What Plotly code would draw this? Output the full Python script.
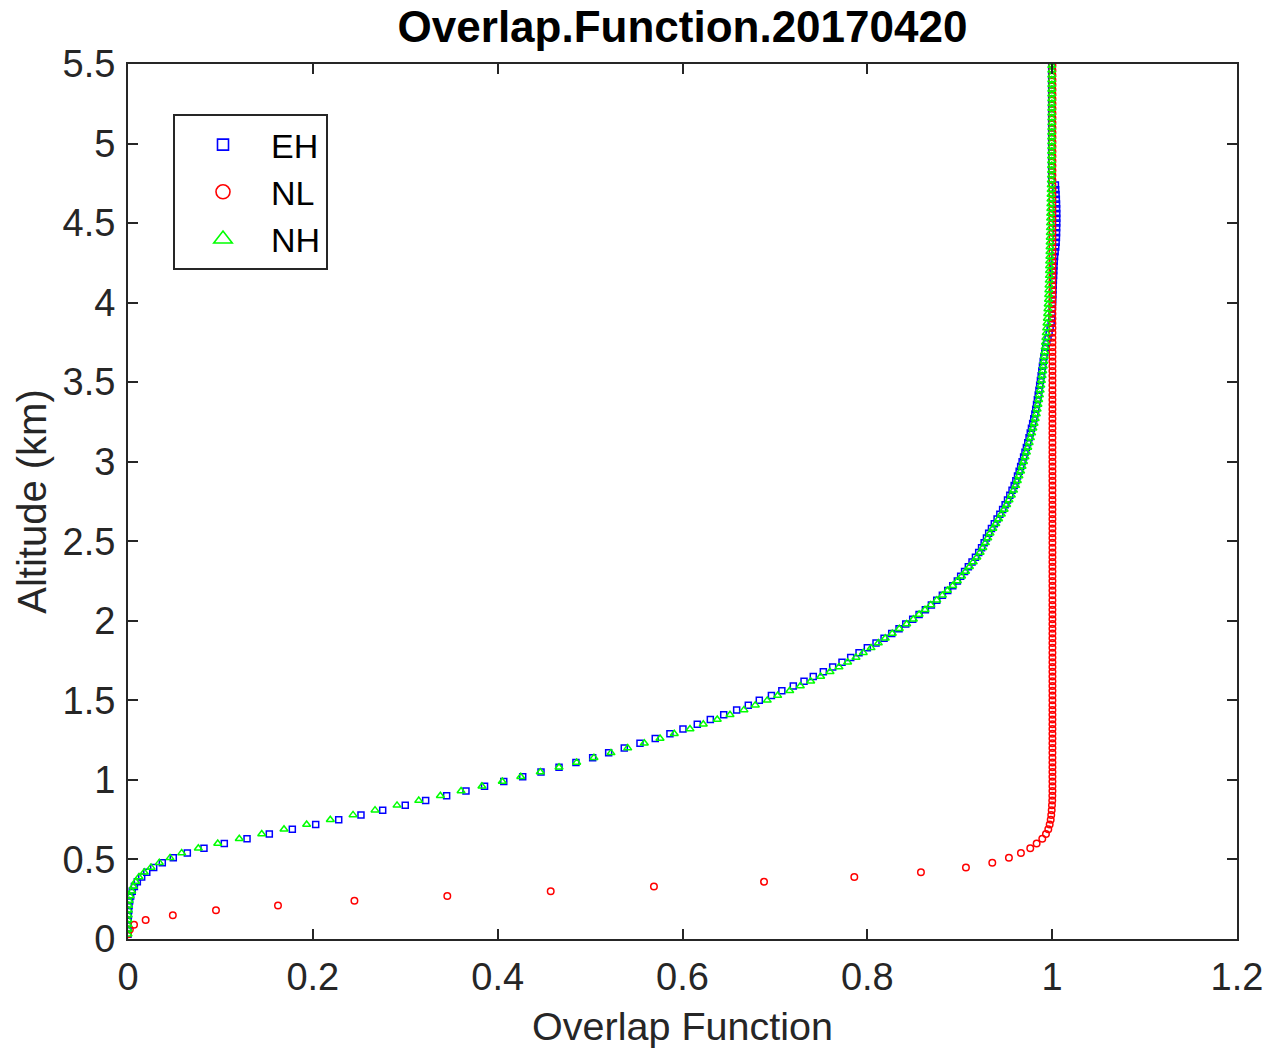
import plotly.graph_objects as go

# Altitude grid (km)
altitude_km = [
    0.03, 0.06, 0.09, 0.12, 0.15, 0.18, 0.21, 0.24, 0.27, 0.30,
    0.33, 0.36, 0.39, 0.42, 0.45, 0.48, 0.51, 0.54, 0.57, 0.60,
    0.63, 0.66, 0.69, 0.72, 0.75, 0.78, 0.81, 0.84, 0.87, 0.90,
    0.93, 0.96, 0.99, 1.02, 1.05, 1.08, 1.11, 1.14, 1.17, 1.20,
    1.23, 1.26, 1.29, 1.32, 1.35, 1.38, 1.41, 1.44, 1.47, 1.50,
    1.53, 1.56, 1.59, 1.62, 1.65, 1.68, 1.71, 1.74, 1.77, 1.80,
    1.83, 1.86, 1.89, 1.92, 1.95, 1.98, 2.01, 2.04, 2.07, 2.10,
    2.13, 2.16, 2.19, 2.22, 2.25, 2.28, 2.31, 2.34, 2.37, 2.40,
    2.43, 2.46, 2.49, 2.52, 2.55, 2.58, 2.61, 2.64, 2.67, 2.70,
    2.73, 2.76, 2.79, 2.82, 2.85, 2.88, 2.91, 2.94, 2.97, 3.00,
    3.03, 3.06, 3.09, 3.12, 3.15, 3.18, 3.21, 3.24, 3.27, 3.30,
    3.33, 3.36, 3.39, 3.42, 3.45, 3.48, 3.51, 3.54, 3.57, 3.60,
    3.63, 3.66, 3.69, 3.72, 3.75, 3.78, 3.81, 3.84, 3.87, 3.90,
    3.93, 3.96, 3.99, 4.02, 4.05, 4.08, 4.11, 4.14, 4.17, 4.20,
    4.23, 4.26, 4.29, 4.32, 4.35, 4.38, 4.41, 4.44, 4.47, 4.50,
    4.53, 4.56, 4.59, 4.62, 4.65, 4.68, 4.71, 4.74, 4.77, 4.80,
    4.83, 4.86, 4.89, 4.92, 4.95, 4.98, 5.01, 5.04, 5.07, 5.10,
    5.13, 5.16, 5.19, 5.22, 5.25, 5.28, 5.31, 5.34, 5.37, 5.40,
    5.43, 5.46, 5.49,
]

# EH overlap function
eh_overlap = [
    0.0, 0.0, 0.0, 0.0002, 0.0004, 0.0007, 0.0011, 0.0018, 0.0029, 0.0046,
    0.0069, 0.0101, 0.0148, 0.0203, 0.0278, 0.0371, 0.0490, 0.0642, 0.0822, 0.1042,
    0.1288, 0.1529, 0.1778, 0.2031, 0.2280, 0.2521, 0.2756, 0.3000, 0.3221, 0.3448,
    0.3657, 0.3858, 0.4066, 0.4271, 0.4469, 0.4664, 0.4847, 0.5028, 0.5201, 0.5370,
    0.5540, 0.5705, 0.5864, 0.6005, 0.6160, 0.6301, 0.6446, 0.6586, 0.6712, 0.6831,
    0.6962, 0.7075, 0.7199, 0.7315, 0.7415, 0.7524, 0.7625, 0.7726, 0.7820, 0.7910,
    0.8000, 0.8094, 0.8181, 0.8264, 0.8343, 0.8416, 0.8491, 0.8560, 0.8628, 0.8693,
    0.8751, 0.8812, 0.8870, 0.8924, 0.8974, 0.9010, 0.9052, 0.9093, 0.9133, 0.9170,
    0.9205, 0.9236, 0.9264, 0.9289, 0.9313, 0.9343, 0.9374, 0.9404, 0.9434, 0.9464,
    0.9491, 0.9517, 0.9542, 0.9566, 0.9589, 0.9607, 0.9625, 0.9643, 0.9659, 0.9675,
    0.9691, 0.9706, 0.9721, 0.9736, 0.9750, 0.9763, 0.9776, 0.9789, 0.9801, 0.9813,
    0.9822, 0.9831, 0.9840, 0.9849, 0.9857, 0.9865, 0.9873, 0.9881, 0.9888, 0.9895,
    0.9903, 0.9911, 0.9920, 0.9930, 0.9942, 0.9955, 0.9967, 0.9978, 0.9989, 0.9996,
    0.9999, 1.0001, 1.0003, 1.0005, 1.0007, 1.0009, 1.0011, 1.0013, 1.0015, 1.0017,
    1.0019, 1.0022, 1.0026, 1.0032, 1.0039, 1.0043, 1.0046, 1.0047, 1.0048, 1.0049,
    1.0049, 1.0049, 1.0048, 1.0047, 1.0045, 1.0042, 1.0038, 1.0035, 0.9995, 0.9995,
    0.9995, 0.9995, 0.9995, 0.9995, 0.9995, 0.9995, 0.9995, 0.9995, 0.9995, 0.9995,
    0.9995, 0.9995, 0.9995, 0.9995, 0.9995, 0.9995, 0.9995, 0.9995, 0.9995, 0.9995,
    0.9995, 0.9995, 0.9995,
]

# NL overlap function
nl_overlap = [
    0.0, 0.0020, 0.0065, 0.0191, 0.0485, 0.0952, 0.1623, 0.2450, 0.3455, 0.4574,
    0.5691, 0.6882, 0.7859, 0.8580, 0.9067, 0.9352, 0.9532, 0.9662, 0.9763, 0.9832,
    0.9893, 0.9933, 0.9958, 0.9973, 0.9984, 0.9990, 0.9995, 0.9998, 1.0001, 1.0002,
    1.0003, 1.0003, 1.0003, 1.0003, 1.0003, 1.0003, 1.0003, 1.0003, 1.0003, 1.0003,
    1.0003, 1.0003, 1.0003, 1.0003, 1.0003, 1.0003, 1.0003, 1.0003, 1.0003, 1.0003,
    1.0003, 1.0003, 1.0003, 1.0003, 1.0003, 1.0003, 1.0003, 1.0003, 1.0003, 1.0003,
    1.0003, 1.0003, 1.0003, 1.0003, 1.0003, 1.0003, 1.0003, 1.0003, 1.0003, 1.0003,
    1.0003, 1.0003, 1.0003, 1.0003, 1.0003, 1.0003, 1.0003, 1.0003, 1.0003, 1.0003,
    1.0003, 1.0003, 1.0003, 1.0003, 1.0003, 1.0003, 1.0003, 1.0003, 1.0003, 1.0003,
    1.0003, 1.0003, 1.0003, 1.0003, 1.0003, 1.0003, 1.0003, 1.0003, 1.0003, 1.0003,
    1.0003, 1.0003, 1.0003, 1.0003, 1.0003, 1.0003, 1.0003, 1.0003, 1.0003, 1.0003,
    1.0003, 1.0003, 1.0003, 1.0003, 1.0003, 1.0003, 1.0003, 1.0003, 1.0003, 1.0003,
    1.0003, 1.0003, 1.0003, 1.0003, 1.0003, 1.0003, 1.0003, 1.0003, 1.0003, 1.0003,
    1.0003, 1.0003, 1.0003, 1.0003, 1.0003, 1.0003, 1.0003, 1.0003, 1.0003, 1.0003,
    1.0003, 1.0003, 1.0003, 1.0003, 1.0003, 1.0003, 1.0003, 1.0003, 1.0003, 1.0003,
    1.0003, 1.0003, 1.0003, 1.0003, 1.0003, 1.0003, 1.0003, 1.0003, 1.0003, 1.0003,
    1.0003, 1.0003, 1.0003, 1.0003, 1.0003, 1.0003, 1.0003, 1.0003, 1.0003, 1.0003,
    1.0003, 1.0003, 1.0003, 1.0003, 1.0003, 1.0003, 1.0003, 1.0003, 1.0003, 1.0003,
    1.0003, 1.0003, 1.0003,
]

# NH overlap function
nh_overlap = [
    0.0, 0.0, 0.0, 0.0, 0.0002, 0.0004, 0.0007, 0.0012, 0.0022, 0.0040,
    0.0058, 0.0083, 0.0119, 0.0176, 0.0249, 0.0339, 0.0455, 0.0581, 0.0761, 0.0971,
    0.1204, 0.1447, 0.1688, 0.1933, 0.2189, 0.2435, 0.2673, 0.2911, 0.3146, 0.3380,
    0.3604, 0.3830, 0.4050, 0.4250, 0.4461, 0.4664, 0.4855, 0.5042, 0.5226, 0.5407,
    0.5587, 0.5757, 0.5911, 0.6081, 0.6225, 0.6376, 0.6514, 0.6665, 0.6788, 0.6917,
    0.7030, 0.7160, 0.7275, 0.7387, 0.7495, 0.7596, 0.7693, 0.7787, 0.7877, 0.7956,
    0.8040, 0.8119, 0.8194, 0.8270, 0.8346, 0.8426, 0.8498, 0.8560, 0.8624, 0.8686,
    0.8751, 0.8812, 0.8866, 0.8924, 0.8974, 0.9020, 0.9063, 0.9105, 0.9146, 0.9185,
    0.9220, 0.9250, 0.9278, 0.9303, 0.9327, 0.9358, 0.9390, 0.9420, 0.9450, 0.9480,
    0.9507, 0.9533, 0.9558, 0.9582, 0.9605, 0.9623, 0.9640, 0.9658, 0.9674, 0.9690,
    0.9706, 0.9721, 0.9736, 0.9751, 0.9765, 0.9778, 0.9791, 0.9804, 0.9816, 0.9828,
    0.9837, 0.9846, 0.9854, 0.9862, 0.9870, 0.9877, 0.9884, 0.9891, 0.9898, 0.9904,
    0.9909, 0.9914, 0.9919, 0.9924, 0.9928, 0.9932, 0.9936, 0.9940, 0.9944, 0.9948,
    0.9951, 0.9954, 0.9957, 0.9960, 0.9962, 0.9964, 0.9966, 0.9968, 0.9970, 0.9971,
    0.9972, 0.9973, 0.9975, 0.9976, 0.9977, 0.9978, 0.9979, 0.9980, 0.9981, 0.9982,
    0.9983, 0.9984, 0.9985, 0.9986, 0.9987, 0.9988, 0.9989, 0.9990, 0.9991, 0.9992,
    0.9993, 0.9993, 0.9994, 0.9994, 0.9994, 0.9995, 0.9995, 0.9995, 0.9995, 0.9996,
    0.9996, 0.9996, 0.9996, 0.9996, 0.9996, 0.9996, 0.9996, 0.9996, 0.9996, 0.9996,
    0.9996, 0.9996, 0.9996,
]

series_names = ["EH", "NL", "NH"]
x_ticks = [0, 0.2, 0.4, 0.6, 0.8, 1, 1.2]
x_tick_labels = ["0", "0.2", "0.4", "0.6", "0.8", "1", "1.2"]
y_ticks = [0, 0.5, 1, 1.5, 2, 2.5, 3, 3.5, 4, 4.5, 5, 5.5]
y_tick_labels = ["0", "0.5", "1", "1.5", "2", "2.5", "3", "3.5", "4", "4.5", "5", "5.5"]

FONT = "Liberation Sans, Arial, Helvetica, sans-serif"
AX = "#262626"

styles = {
    "EH": dict(symbol="square-open", color="#0000FF", size=6, lsize=11),
    "NL": dict(symbol="circle-open", color="#FF0000", size=6.5, lsize=14),
    "NH": dict(symbol="triangle-up-open", color="#00FF00", size=7, lsize=16),
}
values = {"EH": eh_overlap, "NL": nl_overlap, "NH": nh_overlap}

fig = go.Figure()
for name in series_names:
    st = styles[name]
    fig.add_trace(go.Scatter(
        x=values[name], y=altitude_km, mode="markers", name=name,
        showlegend=False,
        marker=dict(symbol=st["symbol"], size=st["size"], color=st["color"],
                    line=dict(width=1.5, color=st["color"])),
    ))
for name in series_names:
    st = styles[name]
    fig.add_trace(go.Scatter(
        x=[None], y=[None], mode="markers", name=name, showlegend=True,
        marker=dict(symbol=st["symbol"], size=st["lsize"], color=st["color"],
                    line=dict(width=1.6, color=st["color"])),
    ))

axis_common = dict(
    showline=True, linecolor=AX, linewidth=2, mirror="ticks",
    ticks="inside", ticklen=10, tickwidth=2, tickcolor=AX,
    showgrid=False, zeroline=False, ticklabelstandoff=3, automargin=False,
    tickfont=dict(family=FONT, size=38, color=AX),
)

fig.update_layout(
    width=1268, height=1049,
    margin=dict(l=128, r=31, t=64, b=110),
    paper_bgcolor="white", plot_bgcolor="white",
    title=dict(text="<b>Overlap.Function.20170420</b>", x=0.5, xref="paper",
               y=1 - 27 / 1049, yanchor="middle", automargin=False,
               font=dict(family=FONT, size=44, color="black")),
    xaxis=dict(range=[0, 1.2], tickvals=x_ticks, ticktext=x_tick_labels,
               title=dict(text="Overlap Function", standoff=16,
                          font=dict(family=FONT, size=39.5, color=AX)),
               **axis_common),
    yaxis=dict(range=[0, 5.5], tickvals=y_ticks, ticktext=y_tick_labels,
               title=dict(text="Altitude (km)", standoff=4,
                          font=dict(family=FONT, size=40, color=AX)),
               **axis_common),
    legend=dict(x=(173 - 128) / 1109, y=(939 - 114) / 875, xanchor="left", yanchor="top",
                bordercolor=AX, borderwidth=2, bgcolor="white",
                font=dict(family=FONT, size=34, color="black"),
                itemwidth=86, tracegroupgap=0),
    showlegend=True,
)

fig.write_html("out.html")
